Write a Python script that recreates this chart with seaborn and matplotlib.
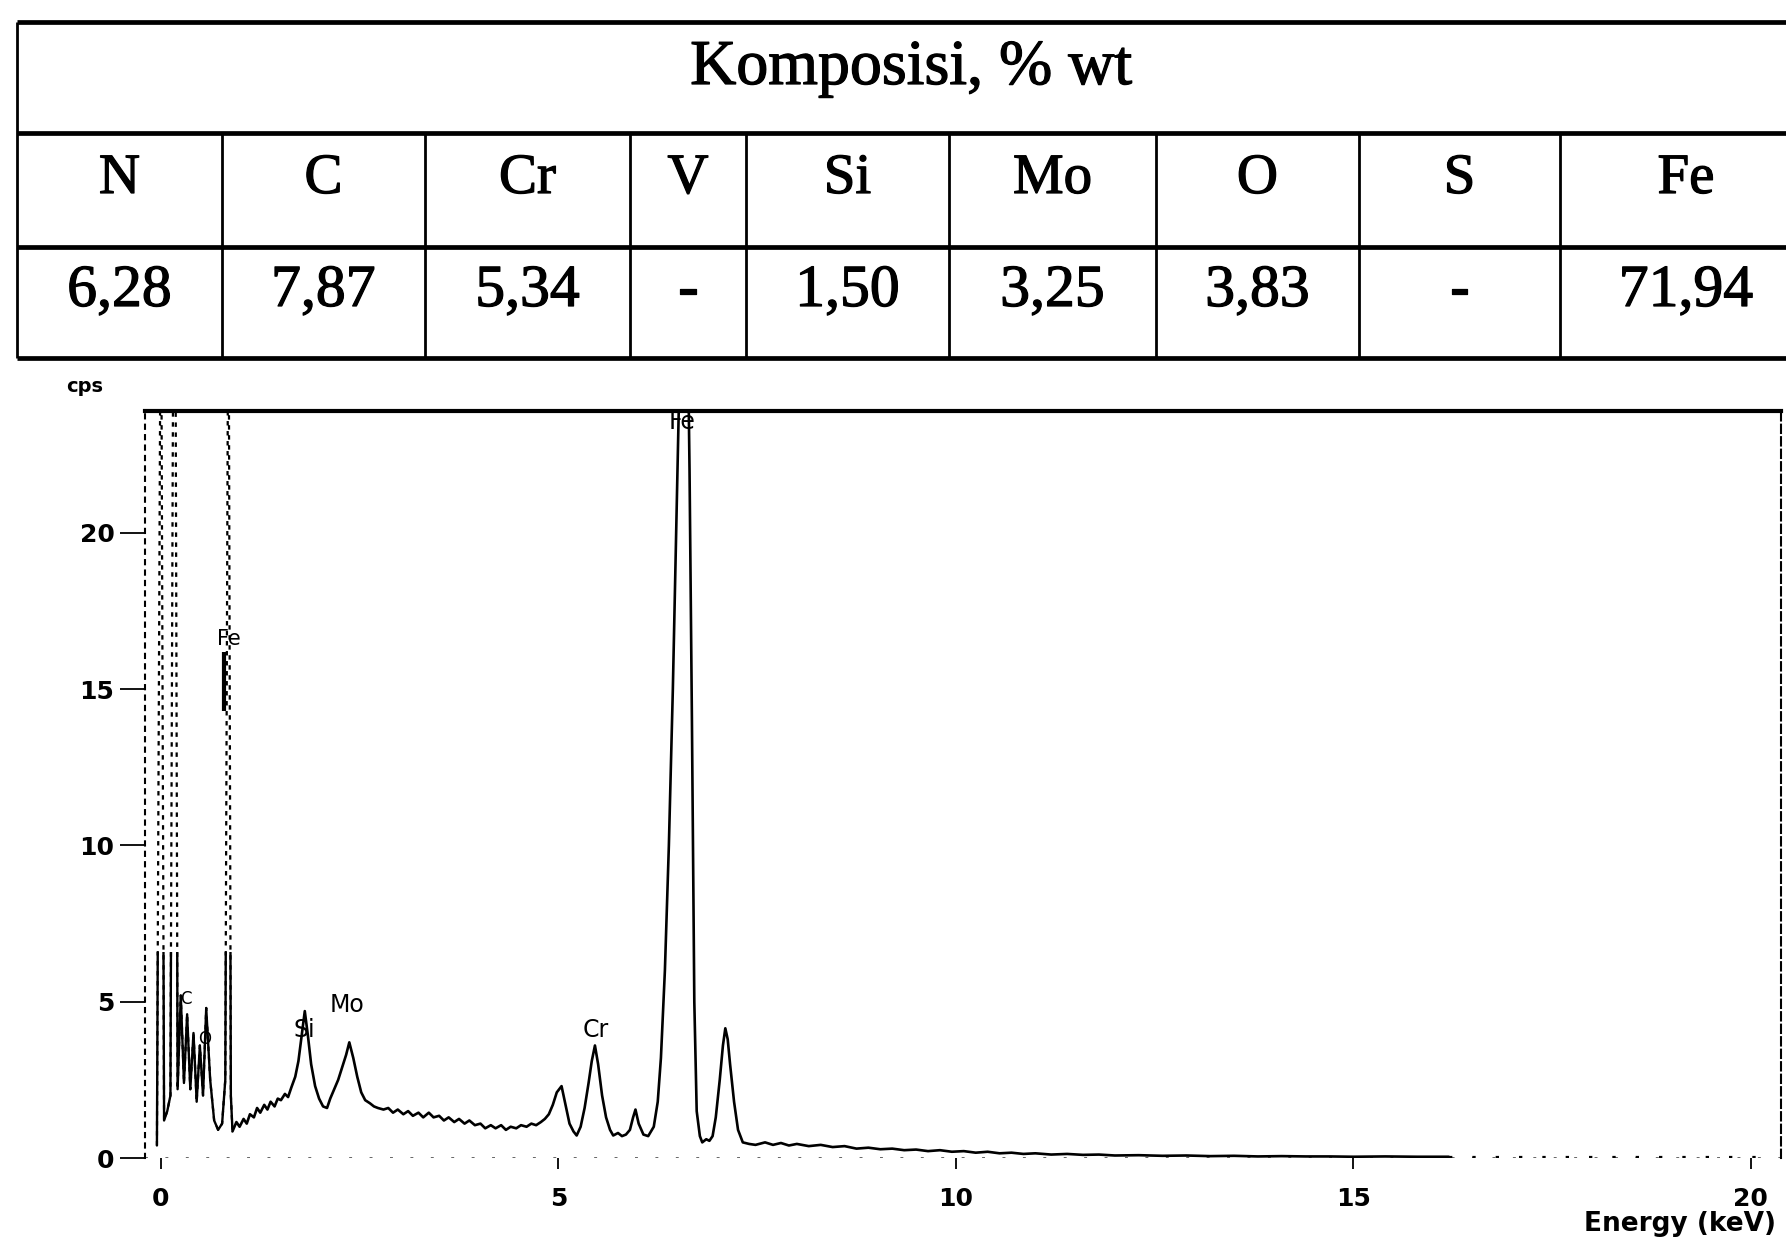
import matplotlib
matplotlib.use("Agg")
import matplotlib.pyplot as plt
import matplotlib.patheffects as pe
from matplotlib.patches import Rectangle
import seaborn as sns
import pandas as pd

# ---------------- data ----------------
table_title = "Komposisi, % wt"
elements = ["N", "C", "Cr", "V", "Si", "Mo", "O", "S", "Fe"]
composition = ["6,28", "7,87", "5,34", "-", "1,50", "3,25", "3,83", "-", "71,94"]

# low-energy part of the spectrum (faded / dotted in the scan)
energy_low = [-0.05, 0.00, 0.04, 0.08, 0.12, 0.16, 0.18, 0.21, 0.25, 0.29, 0.33,
              0.37, 0.41, 0.45, 0.49, 0.53, 0.57, 0.62, 0.67, 0.72, 0.77, 0.81,
              0.85, 0.88, 0.90]
cps_low = [0.4, 30.0, 1.2, 1.5, 2.0, 30.0, 30.0, 2.2, 5.2, 2.4, 4.6,
           2.2, 4.0, 1.8, 3.6, 2.0, 4.8, 2.5, 1.2, 0.9, 1.1, 2.5,
           30.0, 2.0, 0.9]

# main spectrum
energy_main = [0.90, 0.95, 0.99, 1.04, 1.08, 1.12, 1.17, 1.21, 1.25, 1.30, 1.34, 1.38,
               1.43, 1.47, 1.51, 1.56, 1.60, 1.64, 1.69, 1.73, 1.77, 1.81, 1.85, 1.89,
               1.94, 1.99, 2.04, 2.09, 2.13, 2.18, 2.23, 2.28, 2.33, 2.37, 2.42, 2.47,
               2.52, 2.57, 2.63, 2.68, 2.73, 2.80, 2.86, 2.92, 2.98, 3.05, 3.11, 3.17,
               3.24, 3.30, 3.37, 3.43, 3.50, 3.56, 3.62, 3.69, 3.75, 3.82, 3.88, 3.95,
               4.02, 4.08, 4.15, 4.21, 4.28, 4.34, 4.40, 4.47, 4.53, 4.60, 4.66, 4.72,
               4.78, 4.83, 4.88, 4.93, 4.98, 5.04, 5.09, 5.14, 5.19, 5.23, 5.28, 5.33,
               5.38, 5.42, 5.46, 5.50, 5.55, 5.60, 5.65, 5.69, 5.75, 5.80, 5.85, 5.90,
               5.94, 5.97, 6.01, 6.07, 6.13, 6.20, 6.25, 6.29, 6.34, 6.39, 6.44, 6.49,
               6.54, 6.58, 6.62, 6.65, 6.68, 6.71, 6.74, 6.78, 6.81, 6.86, 6.90, 6.94,
               6.98, 7.03, 7.07, 7.10, 7.13, 7.16, 7.21, 7.26, 7.32, 7.40, 7.48, 7.60,
               7.70, 7.80, 7.90, 8.00, 8.15, 8.30, 8.45, 8.60, 8.75, 8.90, 9.05, 9.20,
               9.35, 9.50, 9.65, 9.80, 9.95, 10.10, 10.25, 10.40, 10.55, 10.70, 10.85,
               11.00, 11.20, 11.40, 11.60, 11.80, 12.00, 12.30, 12.60, 12.90, 13.20,
               13.50, 13.80, 14.10, 14.40, 14.70, 15.00, 15.40, 15.80, 16.20]
cps_main = [0.85, 1.15, 1.00, 1.25, 1.10, 1.40, 1.30, 1.60, 1.45, 1.70, 1.55, 1.80,
            1.65, 1.90, 1.85, 2.05, 1.95, 2.25, 2.60, 3.10, 3.90, 4.70, 3.90, 3.00,
            2.30, 1.90, 1.65, 1.60, 1.90, 2.20, 2.50, 2.90, 3.30, 3.70, 3.20, 2.60,
            2.10, 1.85, 1.75, 1.65, 1.60, 1.55, 1.60, 1.45, 1.55, 1.40, 1.50, 1.35,
            1.45, 1.30, 1.45, 1.30, 1.35, 1.20, 1.30, 1.15, 1.25, 1.10, 1.20, 1.05,
            1.10, 0.95, 1.05, 0.95, 1.05, 0.90, 1.00, 0.95, 1.05, 1.00, 1.10, 1.05,
            1.15, 1.25, 1.40, 1.70, 2.10, 2.30, 1.70, 1.10, 0.85, 0.72, 1.00, 1.60,
            2.40, 3.10, 3.60, 3.00, 2.00, 1.30, 0.90, 0.72, 0.80, 0.70, 0.75, 0.90,
            1.30, 1.55, 1.10, 0.75, 0.70, 1.00, 1.80, 3.20, 6.00, 10.0, 15.0, 21.0,
            27.0, 30.0, 28.0, 22.0, 14.0, 5.00, 1.50, 0.70, 0.50, 0.60, 0.55, 0.70,
            1.30, 2.50, 3.60, 4.15, 3.80, 3.00, 1.80, 0.90, 0.50, 0.45, 0.42, 0.50,
            0.42, 0.48, 0.40, 0.45, 0.38, 0.42, 0.35, 0.38, 0.30, 0.33, 0.28, 0.30,
            0.25, 0.27, 0.22, 0.25, 0.20, 0.22, 0.17, 0.20, 0.15, 0.17, 0.13,
            0.15, 0.11, 0.13, 0.10, 0.11, 0.08, 0.09, 0.07, 0.08, 0.06,
            0.07, 0.05, 0.06, 0.05, 0.05, 0.04, 0.05, 0.04, 0.04]

# faint tail of the trace
energy_tail = [16.20, 20.20]
cps_tail = [0.04, 0.04]

# peak labels
peak_names = ["Fe", "Fe", "Si", "Mo", "Cr", "C", "O"]
peak_label_energy = [6.55, 0.85, 1.81, 2.34, 5.47, 0.32, 0.55]
peak_label_cps = [23.55, 16.60, 4.10, 4.90, 4.10, 5.10, 3.80]
peak_label_size = [17, 15, 17, 17, 17, 12, 12]

# line marker for the Fe L label
marker_energy = [0.80]
marker_low = [14.3]
marker_high = [16.2]

x_ticks = [0, 5, 10, 15, 20]
y_ticks = [0, 5, 10, 15, 20]

# ---------------- style ----------------
sns.set_style("white")
plt.rcParams['font.family'] = ['DejaVu Sans']
plt.rcParams['text.color'] = 'black'
plt.rcParams['xtick.color'] = 'black'
plt.rcParams['ytick.color'] = 'black'
plt.rcParams['axes.labelcolor'] = 'black'

W, H = 1786, 1237
fig = plt.figure(figsize=(W / 100, H / 100), dpi=100, facecolor="white")

# ---------------- table (pixel overlay) ----------------
tax = fig.add_axes([0, 0, 1, 1])
tax.set_xlim(0, W)
tax.set_ylim(H, 0)
tax.axis("off")

col_edges = [17, 222, 425, 630, 746, 949, 1156, 1359, 1560, 1812]
row_lines = [22, 133, 247, 358]
for y in row_lines:
    tax.plot([col_edges[0], W], [y, y], color="black", lw=3.4, solid_capstyle="butt")
for i, x in enumerate(col_edges[:-1]):
    y0 = row_lines[0] if i == 0 else row_lines[1]
    tax.plot([x, x], [y0, row_lines[3]], color="black", lw=2.0, solid_capstyle="butt")

serif = ["Liberation Serif", "DejaVu Serif"]
thick = [pe.withStroke(linewidth=0.9, foreground="black")]
tax.text(911, 84, table_title, ha="center", va="baseline", family=serif,
         fontsize=46, color="black", path_effects=thick)
for i, (el, val) in enumerate(zip(elements, composition)):
    cx = (col_edges[i] + col_edges[i + 1]) / 2
    tax.text(cx, 193, el, ha="center", va="baseline", family=serif, fontsize=41,
             color="black", path_effects=thick)
    tax.text(cx, 306, val, ha="center", va="baseline", family=serif, fontsize=43,
             color="black", fontweight="bold" if val == "-" else "normal",
             path_effects=thick)

# ---------------- spectrum ----------------
ax = fig.add_axes([145 / W, (H - 1158) / H, (1781 - 145) / W, (1158 - 411) / H])
ax.set_facecolor("none")

df_main = pd.DataFrame({"E": energy_main, "cps": cps_main})
df_low = pd.DataFrame({"E": energy_low, "cps": cps_low})
df_tail = pd.DataFrame({"E": energy_tail, "cps": cps_tail})

sns.lineplot(data=df_main, x="E", y="cps", ax=ax, color="black", lw=1.9,
             estimator=None, sort=False)
# low-energy peaks: solid near the baseline, faded (dotted) higher up
sns.lineplot(data=df_low, x="E", y="cps", ax=ax, color="black", lw=1.6,
             estimator=None, sort=False, linestyle=(0, (2.0, 2.5)))
n_before = len(ax.lines)
sns.lineplot(data=df_low, x="E", y="cps", ax=ax, color="black", lw=1.7,
             estimator=None, sort=False)
solid_low = ax.lines[n_before]
clip_rect = Rectangle((-1, -1), 3, 7.6, transform=ax.transData, visible=False)
ax.add_patch(clip_rect)
solid_low.set_clip_path(clip_rect)

sns.lineplot(data=df_tail, x="E", y="cps", ax=ax, color="black", lw=1.6,
             estimator=None, sort=False, linestyle=(0, (1.5, 9)))
ax.axhline(0, color="black", lw=1.4, ls=(0, (1.5, 9)), alpha=0.6)

ax.vlines(marker_energy, marker_low, marker_high, color="black", lw=3)

for name, e, c, s in zip(peak_names, peak_label_energy, peak_label_cps, peak_label_size):
    ax.text(e, c, name, ha="center", va="center", fontsize=s, color="black")

ax.set_xlim(-0.2, 20.38)
ax.set_ylim(0, 23.9)
ax.set_xticks(x_ticks)
ax.set_yticks(y_ticks)
ax.set_xlabel("")
ax.set_ylabel("")

ax.spines["top"].set_linewidth(3.0)
ax.spines["top"].set_color("black")
ax.spines["left"].set_linestyle((0, (2, 3)))
ax.spines["left"].set_linewidth(1.5)
ax.spines["left"].set_color("black")
ax.spines["right"].set_linestyle((0, (4, 2)))
ax.spines["right"].set_linewidth(1.5)
ax.spines["right"].set_color("black")
ax.spines["bottom"].set_visible(False)

ax.tick_params(axis="y", left=True, direction="out", length=18, width=1.3,
               pad=4, labelsize=18, color="black", labelcolor="black")
ax.tick_params(axis="x", bottom=True, direction="out", length=8, width=1.3,
               pad=13, labelsize=18, color="black", labelcolor="black")
for lbl in ax.get_xticklabels() + ax.get_yticklabels():
    lbl.set_fontweight("bold")

fig.text(1776 / W, 1 - 1224 / H, "Energy (keV)", ha="right", va="center",
         fontsize=19, fontweight="bold", color="black")
fig.text(85 / W, 1 - 386 / H, "cps", ha="center", va="center",
         fontsize=14, fontweight="bold", color="black")

fig.savefig("out.png", dpi=100, facecolor="white")
